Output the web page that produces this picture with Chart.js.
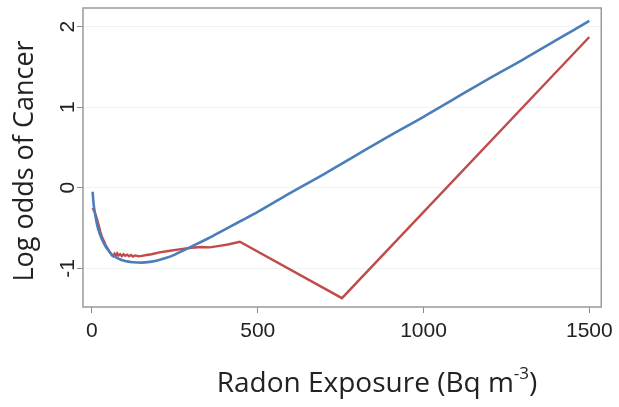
<!DOCTYPE html>
<html>
<head>
<meta charset="utf-8">
<script src="https://cdn.jsdelivr.net/npm/chart.js@4"></script>
<style>
  html, body { margin: 0; padding: 0; background: #fff; }
  #wrap { width: 619px; height: 407px; }
</style>
</head>
<body>
<div id="wrap"><canvas id="graph-canvas" width="619" height="407"></canvas></div>
<script>
// values
const blueX = [2, 5, 10, 15, 20, 30, 40, 50, 60, 75, 100, 125, 150, 175, 200, 225, 250, 275, 300, 350, 400, 450, 500, 600, 700, 800, 900, 1000, 1100, 1200, 1300, 1400, 1500]
const blueY = [-0.05, -0.2, -0.34, -0.45, -0.53, -0.64, -0.72, -0.78, -0.83, -0.87, -0.91, -0.925, -0.93, -0.92, -0.9, -0.87, -0.83, -0.78, -0.73, -0.63, -0.52, -0.41, -0.3, -0.06, 0.17, 0.41, 0.65, 0.88, 1.12, 1.36, 1.59, 1.83, 2.07]
const redX = [2, 8, 14, 20, 25, 30, 36, 42, 48, 54, 60, 64, 68, 72, 76, 80, 85, 90, 95, 100, 106, 112, 118, 124, 130, 140, 150, 165, 180, 200, 230, 263, 300, 330, 355, 380, 410, 446, 754, 1500]
const redY = [-0.25, -0.3, -0.37, -0.46, -0.54, -0.61, -0.66, -0.72, -0.76, -0.8, -0.84, -0.85, -0.82, -0.845, -0.815, -0.84, -0.825, -0.85, -0.825, -0.845, -0.83, -0.85, -0.835, -0.855, -0.84, -0.85, -0.845, -0.835, -0.825, -0.805, -0.785, -0.765, -0.745, -0.735, -0.74, -0.725, -0.705, -0.67, -1.37, 1.87]
const xTicks = [0, 500, 1000, 1500]
const yTicks = [-1, 0, 1, 2]
const xTitle = 'Radon Exposure (Bq m'
const xTitleSup = '-3'
const yTitle = 'Log odds of Cancer'

toPoints = (xs, ys) => xs.map((x, i) => ({ x: x, y: ys[i] }))

const titleFont = (size) => size + 'px "Open Sans", Lato, sans-serif'

// frame, rotated y labels and the axis titles
const stataBits = {
  id: 'stataBits',
  afterDraw: (chart) => {
    const ctx = chart.ctx
    const a = chart.chartArea
    const ys = chart.scales.y
    ctx.save()
    ctx.strokeStyle = '#9a9a9a'
    ctx.lineWidth = 1.5
    ctx.strokeRect(a.left, a.top, a.right - a.left, a.bottom - a.top)

    ctx.fillStyle = '#222'
    ctx.font = '21px "Liberation Sans", Arial, sans-serif'
    ctx.textAlign = 'center'
    ctx.textBaseline = 'middle'
    yTicks.forEach((v) => {
      ctx.save()
      ctx.translate(68, ys.getPixelForValue(v))
      ctx.rotate(-Math.PI / 2)
      ctx.fillText(String(v), 0, 0)
      ctx.restore()
    })

    ctx.font = titleFont(27)
    ctx.save()
    ctx.translate(25, 161)
    ctx.rotate(-Math.PI / 2)
    ctx.fillText(yTitle, 0, 0)
    ctx.restore()

    // x title with superscript
    ctx.textAlign = 'left'
    ctx.font = titleFont(28)
    const mainW = ctx.measureText(xTitle).width
    const closeW = ctx.measureText(')').width
    ctx.font = titleFont(17)
    const supW = ctx.measureText(xTitleSup).width
    let x0 = 377 - (mainW + supW + closeW) / 2
    ctx.font = titleFont(28)
    ctx.fillText(xTitle, x0, 384)
    ctx.fillText(')', x0 + mainW + supW, 384)
    ctx.font = titleFont(17)
    ctx.fillText(xTitleSup, x0 + mainW, 374)
    ctx.restore()
  }
}

createChart = () => {
  const chart = new Chart(document.getElementById('graph-canvas'), {
    type: 'line',
    data: {
      datasets: [
        {
          label: 'fitted',
          data: toPoints(blueX, blueY),
          borderColor: '#4a7ebb',
          borderWidth: 2.6,
          pointRadius: 0,
          cubicInterpolationMode: 'monotone'
        },
        {
          label: 'observed',
          data: toPoints(redX, redY),
          borderColor: '#bf4c49',
          borderWidth: 2.4,
          pointRadius: 0,
          tension: 0
        }
      ]
    },
    options: {
      responsive: false,
      animation: false,
      layout: { padding: { top: 8, right: 14, left: 0, bottom: 0 } },
      plugins: { legend: { display: false }, tooltip: { enabled: false } },
      scales: {
        x: {
          type: 'linear',
          min: -27,
          max: 1536,
          afterBuildTicks: (s) => { s.ticks = xTicks.map((v) => ({ value: v })) },
          afterFit: (s) => { s.height = 100 },
          grid: { display: true, drawOnChartArea: false, drawTicks: true, tickLength: 6, color: '#8a8a8a', lineWidth: 1 },
          border: { display: false },
          ticks: {
            color: '#222',
            padding: 6,
            maxRotation: 0,
            callback: (v) => String(v),
            font: { family: '"Liberation Sans", Arial, sans-serif', size: 21 }
          }
        },
        y: {
          type: 'linear',
          min: -1.48,
          max: 2.23,
          afterBuildTicks: (s) => { s.ticks = yTicks.map((v) => ({ value: v })) },
          afterFit: (s) => { s.width = 83 },
          grid: { color: '#eef3f3', lineWidth: 1, drawTicks: true, tickLength: 6, tickColor: '#8a8a8a' },
          border: { display: false },
          ticks: { display: false }
        }
      }
    },
    plugins: [stataBits]
  })
}

createChart()
</script>
</body>
</html>
